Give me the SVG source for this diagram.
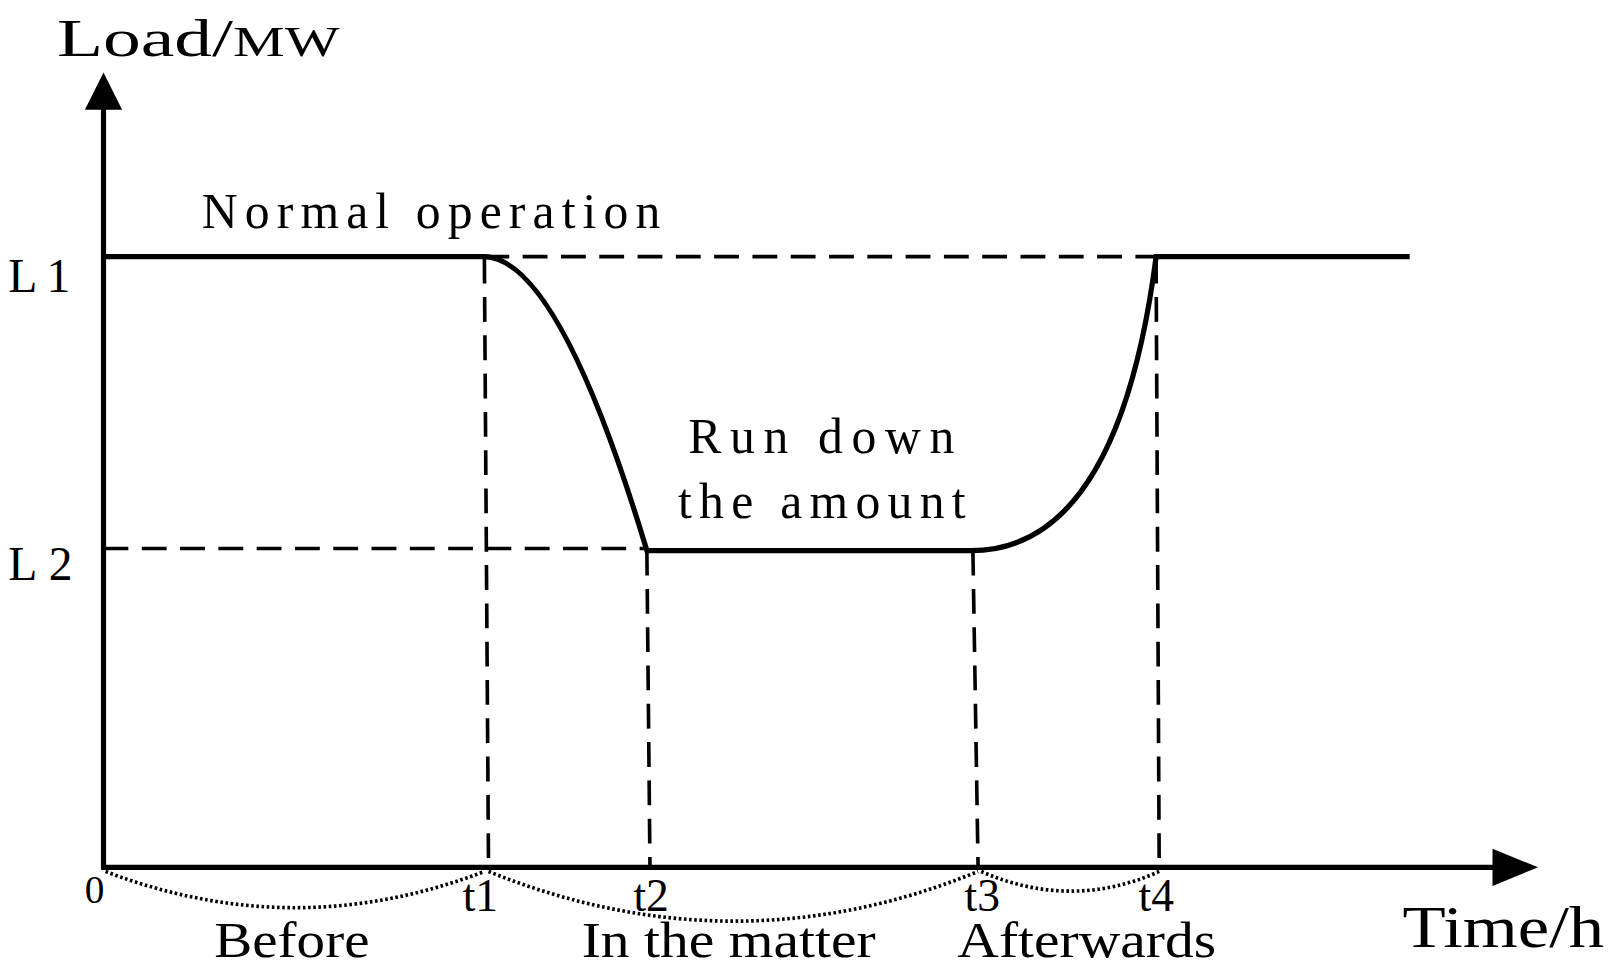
<svg xmlns="http://www.w3.org/2000/svg" width="1615" height="977" viewBox="0 0 1615 977">
<style>
.s{fill:none;stroke:#000;stroke-width:5}
.d{fill:none;stroke:#000;stroke-width:3.5;stroke-dasharray:24,13}
.o{fill:none;stroke:#000;stroke-width:3.5;stroke-dasharray:2.5,2.5}
text{font-family:"Liberation Serif",serif;fill:#000}
</style>
<rect width="1615" height="977" fill="#fff"/>
<g transform="scale(1.035)">
<g id="axes">
<line class="s" x1="100" y1="840" x2="100" y2="100"/>
<polygon points="100,70 82,106 118,106"/>
<line class="s" x1="98" y1="838" x2="1445" y2="838"/>
<polygon points="1486,838 1442,820 1442,856"/>
</g>
<g id="connectors">
<line class="d" x1="468" y1="248" x2="1117" y2="248"/>
<line class="d" x1="100" y1="530" x2="625" y2="530"/>
<line class="d" x1="468" y1="250" x2="472" y2="838"/>
<line class="d" x1="625" y1="532" x2="628" y2="838"/>
<line class="d" x1="940" y1="532" x2="945" y2="838"/>
<line class="d" x1="1117" y1="250" x2="1120" y2="838"/>
<path class="s" d="M100,248 H468 Q540,250 625,532 H935 Q1080,535 1117,248 H1362"/>
<path class="o" d="M102,842 Q285,912 468,842"/>
<path class="o" d="M472,842 Q710,938 945,842"/>
<path class="o" d="M948,842 Q1035,880 1120,842"/>
</g>
<g id="labels" font-size="46">
<text x="55" y="54" font-size="52" textLength="273" lengthAdjust="spacingAndGlyphs">Load/<tspan font-size="40">MW</tspan></text>
<text x="195" y="220" font-size="48" textLength="443">Normal operation</text>
<text x="8" y="282" font-size="46" textLength="60">L1</text>
<text x="8" y="560" font-size="46" textLength="62">L2</text>
<text x="665" y="438" font-size="48" textLength="257">Run down</text>
<text x="655" y="500" font-size="48" textLength="278">the amount</text>
<text x="82" y="872" font-size="38">0</text>
<text x="447" y="880" font-size="44">t1</text>
<text x="612" y="880" font-size="44">t2</text>
<text x="932" y="880" font-size="44">t3</text>
<text x="1100" y="880" font-size="44">t4</text>
<text x="1355" y="915" font-size="58" textLength="195" lengthAdjust="spacingAndGlyphs">Time/h</text>
<text x="207" y="925" font-size="48" textLength="150" lengthAdjust="spacingAndGlyphs">Before</text>
<text x="562" y="925" font-size="48" textLength="284" lengthAdjust="spacingAndGlyphs">In the matter</text>
<text x="925" y="925" font-size="48" textLength="250" lengthAdjust="spacingAndGlyphs">Afterwards</text>
</g>
</g>
</svg>
